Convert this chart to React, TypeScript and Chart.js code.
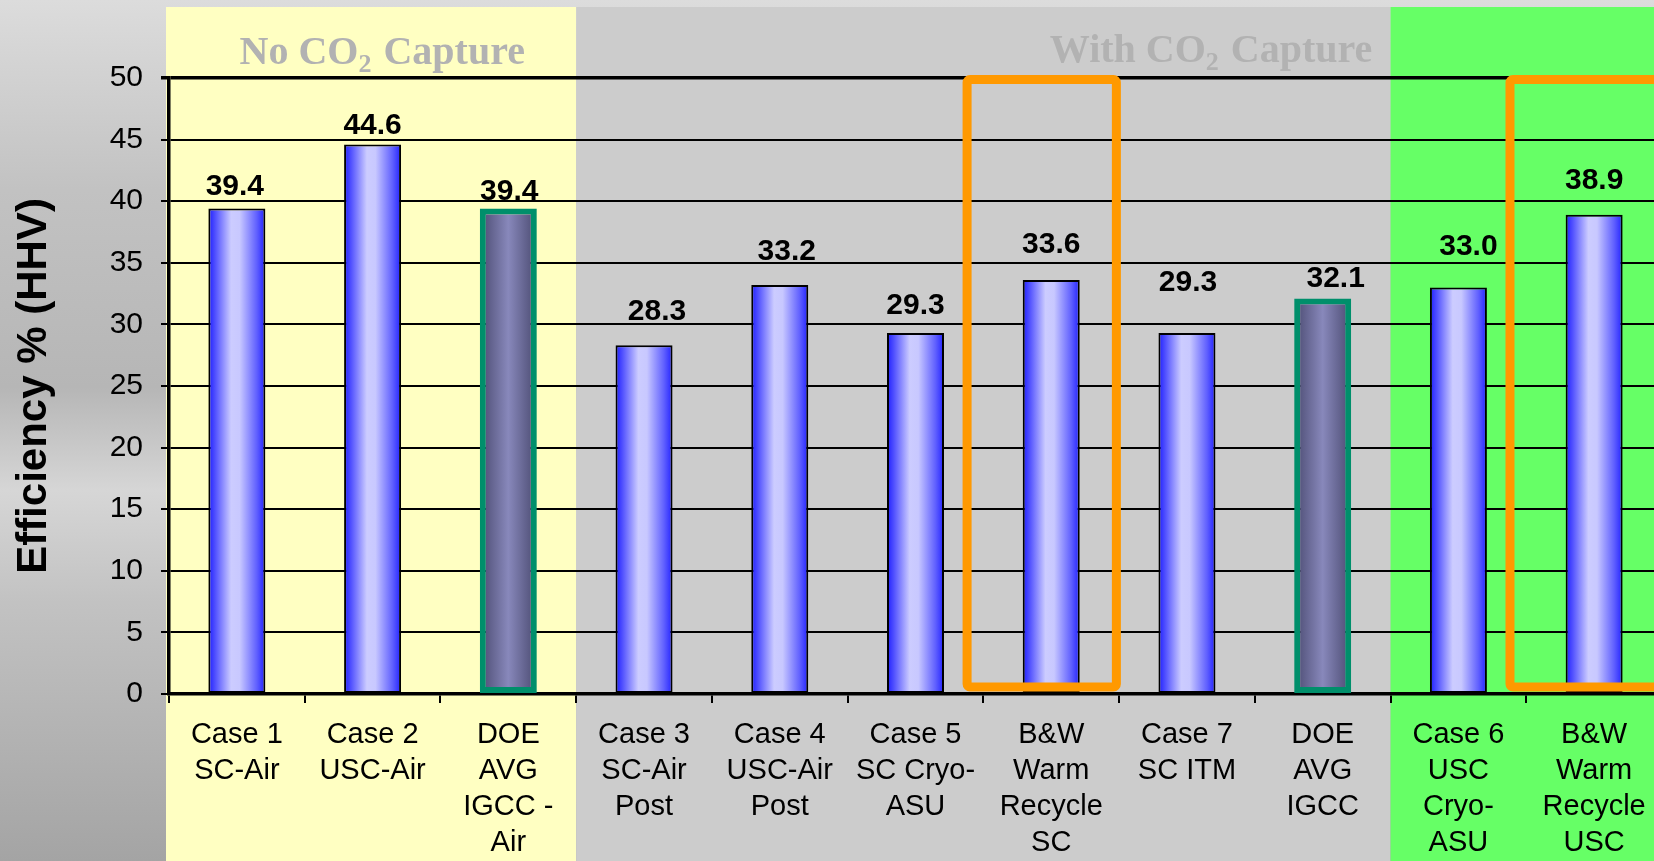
import React, { useEffect, useRef } from 'react';
import { Chart, registerables } from 'chart.js';

Chart.register(...registerables);

// ---------------- data ----------------
const CATEGORIES: string[][] = [
  ['Case 1', 'SC-Air'],
  ['Case 2', 'USC-Air'],
  ['DOE', 'AVG', 'IGCC -', 'Air'],
  ['Case 3', 'SC-Air', 'Post'],
  ['Case 4', 'USC-Air', 'Post'],
  ['Case 5', 'SC Cryo-', 'ASU'],
  ['B&W', 'Warm', 'Recycle', 'SC'],
  ['Case 7', 'SC ITM'],
  ['DOE', 'AVG', 'IGCC'],
  ['Case 6', 'USC', 'Cryo-', 'ASU'],
  ['B&W', 'Warm', 'Recycle', 'USC'],
];
const EFFICIENCY: number[] = [39.4, 44.6, 39.4, 28.3, 33.2, 29.3, 33.6, 29.3, 32.1, 33.0, 38.9];
const Y_MIN = 0;
const Y_MAX = 50;
const Y_STEP = 5;
const Y_TITLE = 'Efficiency % (HHV)';

// category groups (first index, last index)
const GROUP_RANGES: number[][] = [[0, 2], [3, 8], [9, 10]];
const GROUP_TITLES: string[][] = [['No CO', '2', ' Capture'], ['With CO', '2', ' Capture'], []];
// categories outlined with an orange frame
const HIGHLIGHTED: number[] = [6, 10];

// ---------------- styling ----------------
const W = 1680;
const H = 861;
const SANS = "'Liberation Sans', Arial, sans-serif";
const SERIF = "'Liberation Serif', 'Times New Roman', serif";
const GROUP_COLORS = ['#ffffc2', '#cccccc', '#66ff66'];
const GROUP_TITLE_X = [0.02, 5.99]; // in category units
const GROUP_TITLE_BASE = [64, 62];
const LABEL_NUDGE_X = [-2, 0, 1, 13, 7, 0, 0, 1, 13, 10, 0];
const LABEL_NUDGE_Y = [-24, -21, -19, -36, -36, -30, -38, -53, -22, -43, -36];
const BAR_PCT = 0.42;
const isDOE = (i: number) => CATEGORIES[i][0] === 'DOE';

function barFill(c: any) {
  const chart = c.chart;
  const i = c.dataIndex;
  const xs = chart.scales && chart.scales.x;
  const doe = i !== undefined && isDOE(i);
  if (!xs || i === undefined || !xs.width) return doe ? '#8080b0' : '#8888ff';
  const cx = xs.getPixelForValue(i);
  const half = (xs.width / CATEGORIES.length) * BAR_PCT / 2;
  const g = chart.ctx.createLinearGradient(cx - half, 0, cx + half, 0);
  if (doe) {
    g.addColorStop(0, '#4a4a70');
    g.addColorStop(0.5, '#8888bb');
    g.addColorStop(1, '#4a4a70');
  } else {
    g.addColorStop(0, '#1e1eff');
    g.addColorStop(0.12, '#5050ff');
    g.addColorStop(0.4, '#ccccff');
    g.addColorStop(0.55, '#c8c8ff');
    g.addColorStop(0.85, '#6060ff');
    g.addColorStop(1, '#2222ff');
  }
  return g;
}

const backgroundPlugin = {
  id: 'bands',
  beforeDraw(chart: any) {
    const { ctx, chartArea, scales } = chart;
    const xs = scales.x;
    ctx.save();
    const g = ctx.createLinearGradient(0, 0, 0, H);
    g.addColorStop(0, '#dcdcdc');
    g.addColorStop(0.12, '#cecece');
    g.addColorStop(0.22, '#c2c2c2');
    g.addColorStop(0.45, '#b6b6b6');
    g.addColorStop(0.57, '#d6d6d6');
    g.addColorStop(0.7, '#c2c2c2');
    g.addColorStop(1, '#a4a4a4');
    ctx.fillStyle = g;
    ctx.fillRect(0, 0, W, H);
    GROUP_RANGES.forEach((r, k) => {
      const x0 = k === 0 ? chartArea.left - 3 : xs.getPixelForValue(r[0] - 0.5);
      const x1 = k === GROUP_RANGES.length - 1 ? W : xs.getPixelForValue(r[1] + 0.5);
      ctx.fillStyle = GROUP_COLORS[k];
      ctx.fillRect(x0, 7, x1 - x0, H - 7);
    });
    // group titles
    ctx.fillStyle = '#b2b2b2';
    ctx.textAlign = 'left';
    ctx.textBaseline = 'alphabetic';
    GROUP_TITLES.forEach((t, k) => {
      if (!t.length) return;
      let x = xs.getPixelForValue(GROUP_TITLE_X[k]);
      const y = GROUP_TITLE_BASE[k];
      ctx.font = `bold 40px ${SERIF}`;
      ctx.fillText(t[0], x, y);
      x += ctx.measureText(t[0]).width;
      ctx.font = `bold 26px ${SERIF}`;
      ctx.fillText(t[1], x, y + 8);
      x += ctx.measureText(t[1]).width;
      ctx.font = `bold 40px ${SERIF}`;
      ctx.fillText(t[2], x + 2, y);
    });
    ctx.restore();
  },
  afterDatasetsDraw(chart: any) {
    const { ctx } = chart;
    const meta = chart.getDatasetMeta(0);
    ctx.save();
    ctx.fillStyle = '#000';
    ctx.font = `bold 30px ${SANS}`;
    ctx.textAlign = 'center';
    ctx.textBaseline = 'alphabetic';
    meta.data.forEach((bar: any, i: number) => {
      const { x, y } = bar.getProps(['x', 'y'], true);
      ctx.fillText(EFFICIENCY[i].toFixed(1), x + LABEL_NUDGE_X[i], y + LABEL_NUDGE_Y[i] + 0.358 * 30);
    });
    ctx.restore();
  },
  afterDraw(chart: any) {
    const { ctx, scales } = chart;
    const xs = scales.x;
    const ys = scales.y;
    ctx.save();
    ctx.strokeStyle = '#ff9900';
    ctx.lineWidth = 9;
    ctx.lineJoin = 'round';
    HIGHLIGHTED.forEach((i) => {
      const l = xs.getPixelForValue(i - 0.62);
      const r = xs.getPixelForValue(i + 0.48);
      const t = ys.getPixelForValue(Y_MAX) + 1.5;
      const b = ys.getPixelForValue(Y_MIN) - 7;
      ctx.beginPath();
      ctx.roundRect(l, t, r - l, b - t, 3);
      ctx.stroke();
    });
    ctx.restore();
  },
};

export default function App() {
  const ref = useRef<HTMLCanvasElement | null>(null);
  useEffect(() => {
    if (!ref.current) return;
    Chart.defaults.font.family = SANS;
    const chart = new Chart(ref.current, {
      type: 'bar',
      data: {
        labels: CATEGORIES,
        datasets: [
          {
            data: EFFICIENCY,
            backgroundColor: barFill as any,
            borderColor: CATEGORIES.map((_, i) => (isDOE(i) ? '#008f6b' : '#000000')),
            borderWidth: CATEGORIES.map((_, i) => (isDOE(i) ? 6 : 2)),
            borderSkipped: false,
            barPercentage: BAR_PCT,
            categoryPercentage: 1,
          },
        ],
      },
      options: {
        responsive: false,
        animation: false,
        devicePixelRatio: 1,
        layout: { padding: { top: 78, right: 18, left: 0, bottom: 0 } },
        plugins: { legend: { display: false }, tooltip: { enabled: false }, title: { display: false } },
        scales: {
          x: {
            grid: { display: true, drawOnChartArea: false, drawTicks: true, tickLength: 9, color: '#000', lineWidth: 2, offset: true },
            border: { display: true, color: '#000', width: 3.5 },
            ticks: {
              color: '#000',
              font: { family: SANS, size: 29, lineHeight: 1.24 },
              padding: 14,
              autoSkip: false,
              maxRotation: 0,
              minRotation: 0,
            },
            afterFit: (s: any) => { s.height = H - 694; },
          },
          y: {
            min: Y_MIN,
            max: Y_MAX,
            ticks: { stepSize: Y_STEP, color: '#000', font: { family: SANS, size: 30 }, padding: 18 },
            grid: {
              color: '#000',
              lineWidth: (c: any) => (c.tick && c.tick.value === Y_MAX ? 3.5 : 2),
              tickLength: 8,
            },
            border: { display: true, color: '#000', width: 3.5 },
            title: {
              display: true,
              text: Y_TITLE,
              color: '#000',
              font: { family: SANS, size: 42, weight: 'bold', lineHeight: 1.2 },
              padding: { top: 9, bottom: 0 },
            },
            afterFit: (s: any) => { s.width = 169; },
          },
        },
      },
      plugins: [backgroundPlugin],
    } as any);
    return () => chart.destroy();
  }, []);
  return (
    <div style={{ position: 'fixed', left: 0, top: 0, width: 1654, height: 861, overflow: 'hidden' }}>
      <canvas ref={ref} width={W} height={H} style={{ display: 'block', width: W, height: H }} />
    </div>
  );
}
